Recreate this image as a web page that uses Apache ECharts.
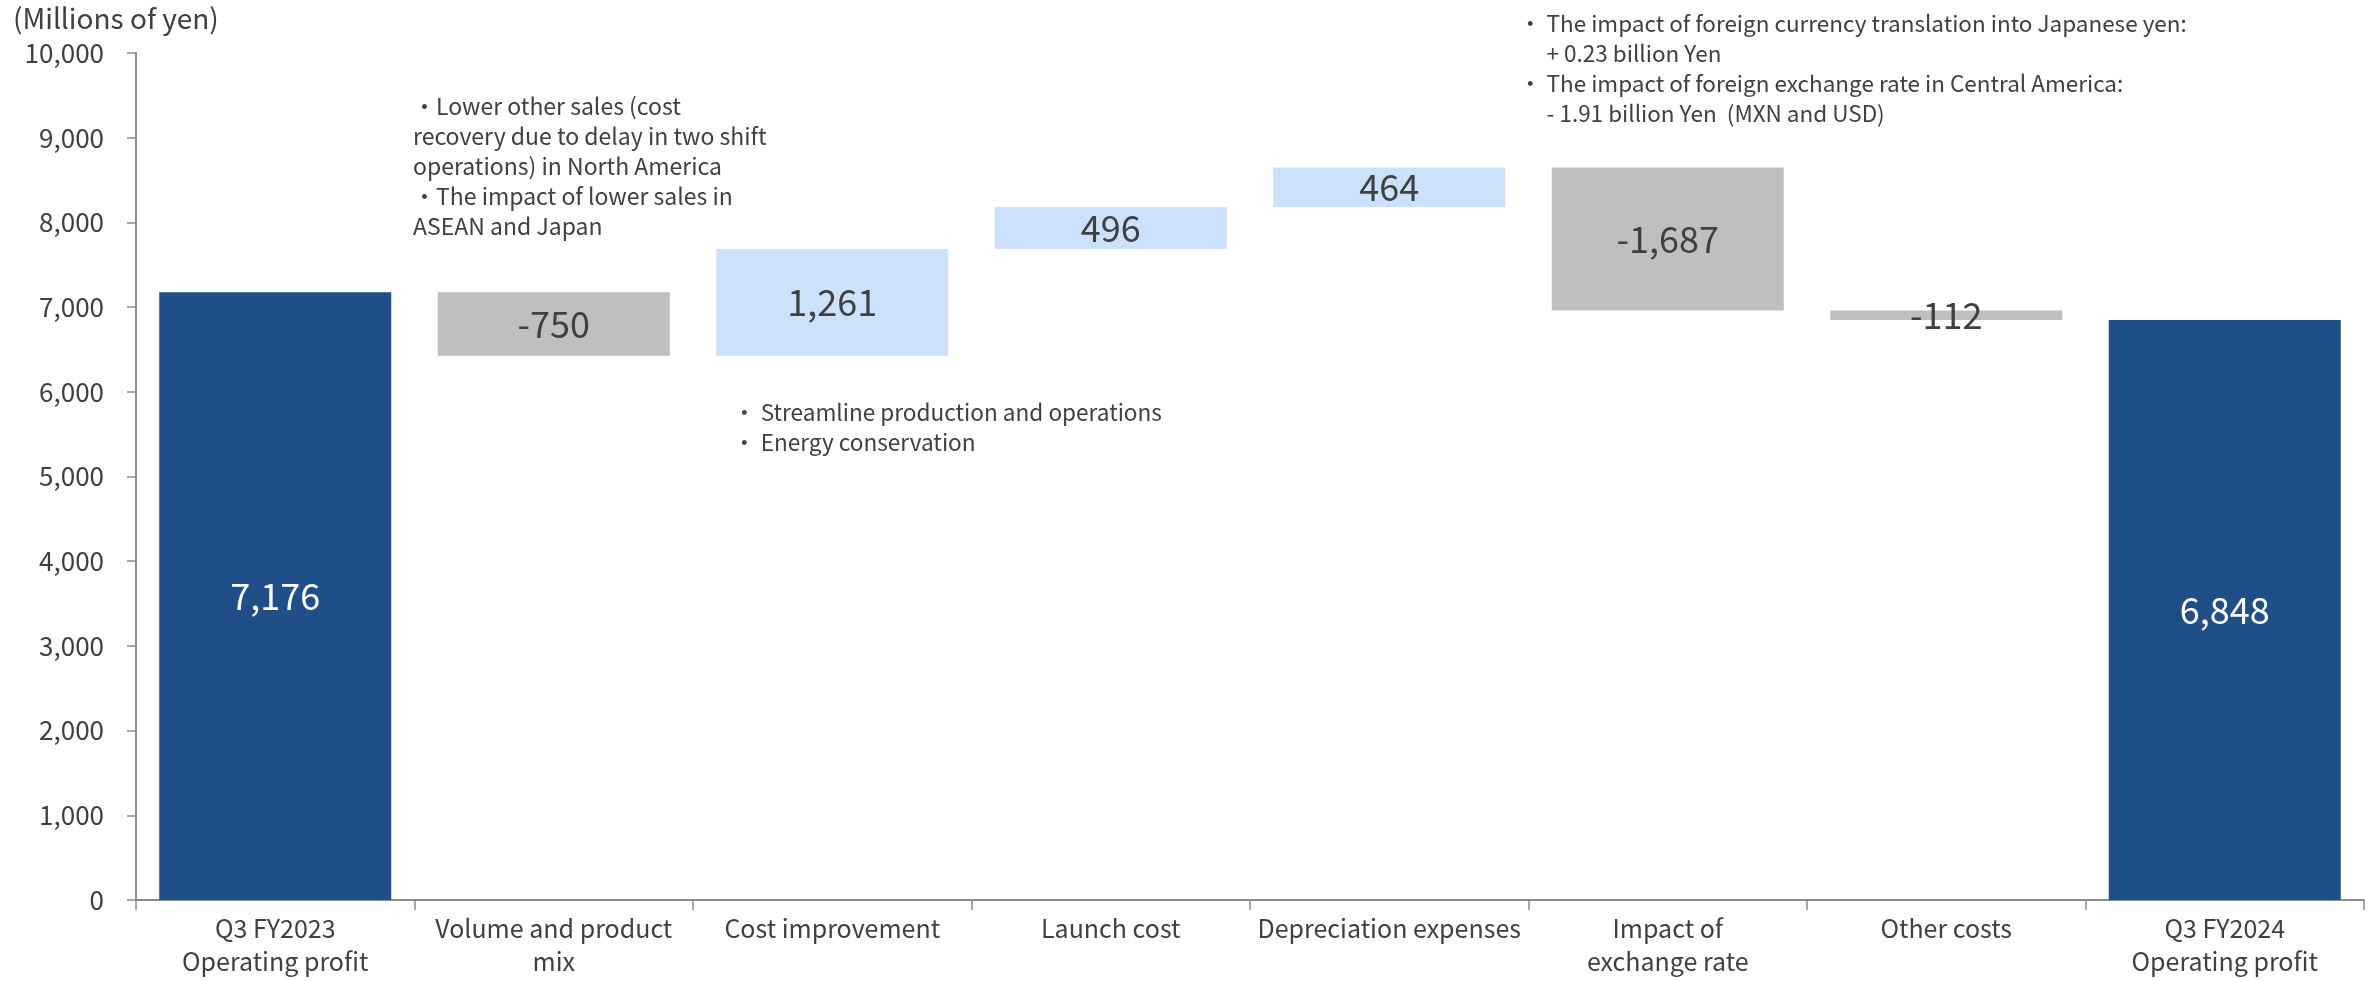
<!DOCTYPE html>
<html>
<head>
<meta charset="utf-8">
<script src="https://cdn.jsdelivr.net/npm/echarts@6/dist/echarts.min.js"></script>
<style>
  html, body { margin: 0; padding: 0; background: #ffffff; }
  #chart { width: 2369px; height: 981px; }
</style>
</head>
<body>
<div id="chart"></div>
<script>
// Operating profit bridge, Q3 FY2023 -> Q3 FY2024 (millions of yen)
const categories = [
  'Q3 FY2023\nOperating profit',
  'Volume and product\nmix',
  'Cost improvement',
  'Launch cost',
  'Depreciation expenses',
  'Impact of\nexchange rate',
  'Other costs',
  'Q3 FY2024\nOperating profit'
];
// Each entry: the change for the step (totals for first and last)
const changes = [7176, -750, 1261, 496, 464, -1687, -112, 6848];
// Which entries are totals standing on zero
const isTotal = [true, false, false, false, false, false, false, true];
const yTicks = { min: 0, max: 10000, interval: 1000 };

const COLOR_TOTAL = '#1F4E89';
const COLOR_UP = '#CCE1FB';
const COLOR_DOWN = '#BFBFBF';
const TEXT = '#404040';
const FONT = '"Noto Sans CJK JP", "Noto Sans", sans-serif';

// Build the invisible base and the visible step of each bar
const baseData = [];
const stepData = [];
let running = 0;
changes.forEach((v, i) => {
  if (isTotal[i]) {
    baseData.push(0);
    stepData.push({ value: v, itemStyle: { color: COLOR_TOTAL }, label: { color: '#ffffff' } });
    running = v;
  } else {
    const next = running + v;
    baseData.push(Math.min(running, next));
    stepData.push({ value: Math.abs(v), itemStyle: { color: v >= 0 ? COLOR_UP : COLOR_DOWN } });
    running = next;
  }
});

const fmt = n => (n < 0 ? '-' : '') + Math.abs(n).toLocaleString('en-US');

const chart = echarts.init(document.getElementById('chart'));
chart.setOption({
  animation: false,
  textStyle: { fontFamily: FONT },
  grid: { left: 136, right: 5, top: 53, bottom: 81, containLabel: false },
  xAxis: {
    type: 'category',
    data: categories,
    axisLine: { lineStyle: { color: '#8C8C8C', width: 2 } },
    axisTick: { show: true, length: 10, lineStyle: { color: '#8C8C8C', width: 1.5 } },
    axisLabel: { color: TEXT, fontSize: 25, lineHeight: 33, margin: 12, fontFamily: FONT, interval: 0 }
  },
  yAxis: {
    type: 'value',
    min: yTicks.min,
    max: yTicks.max,
    interval: yTicks.interval,
    splitLine: { show: false },
    axisLine: { show: true, lineStyle: { color: '#8C8C8C', width: 2 } },
    axisTick: { show: true, length: 9, lineStyle: { color: '#8C8C8C', width: 1.5 } },
    axisLabel: {
      color: TEXT, fontSize: 26, margin: 32, fontFamily: FONT,
      formatter: v => v.toLocaleString('en-US')
    }
  },
  series: [
    {
      type: 'bar',
      stack: 'bridge',
      barCategoryGap: '16.7%',
      itemStyle: { color: 'transparent' },
      emphasis: { disabled: true },
      data: baseData
    },
    {
      type: 'bar',
      stack: 'bridge',
      barCategoryGap: '16.7%',
      emphasis: { disabled: true },
      label: {
        show: true,
        position: 'inside',
        color: TEXT,
        fontSize: 36,
        fontFamily: FONT,
        formatter: p => fmt(changes[p.dataIndex])
      },
      data: stepData
    }
  ],
  graphic: [
    {
      type: 'text', left: 13, top: 4,
      style: { text: '(Millions of yen)', fill: TEXT, fontSize: 28, fontFamily: FONT }
    },
    {
      type: 'text', left: 413, top: 91,
      style: {
        text: '・Lower other sales (cost\nrecovery due to delay in two shift\noperations) in North America\n・The impact of lower sales in\nASEAN and Japan',
        fill: TEXT, fontSize: 23, lineHeight: 30, fontFamily: FONT
      }
    },
    {
      type: 'text', left: 733, top: 397,
      style: {
        text: '・ Streamline production and operations\n・ Energy conservation',
        fill: TEXT, fontSize: 22.6, lineHeight: 30, fontFamily: FONT
      }
    },
    {
      type: 'text', left: 1519, top: 8,
      style: {
        text: '・ The impact of foreign currency translation into Japanese yen:\n　 + 0.23 billion Yen\n・ The impact of foreign exchange rate in Central America:\n　 - 1.91 billion Yen  (MXN and USD)',
        fill: TEXT, fontSize: 22.5, lineHeight: 30, fontFamily: FONT
      }
    }
  ]
});
</script>
</body>
</html>
